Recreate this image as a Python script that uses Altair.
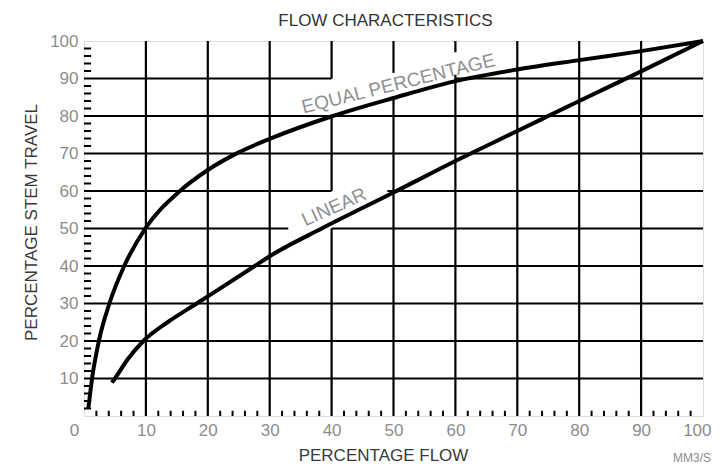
import altair as alt
import pandas as pd

# Curves (x = percentage flow, y = percentage stem travel)
eq_x = [0.7, 1.3, 2.4, 4.1, 6.5, 9.9, 15.5, 20, 25, 30, 40.2, 50, 60, 70, 80, 90, 100]
eq_y = [2, 10, 20, 30, 40, 50, 60, 65.6, 70.3, 73.9, 80, 84.8, 89.3, 92.4, 94.9, 97.3, 100]
lin_x = [4.5, 5.0, 7.0, 9.6, 13.5, 18.2, 27.6, 30, 38.4, 50, 60, 70, 80, 90, 100]
lin_y = [8.9, 10, 15, 20, 25.0, 30, 40, 42.6, 50, 59.6, 68, 76, 84, 91.9, 100]

x_tick_values = list(range(0, 101, 10))
y_tick_values = list(range(10, 101, 10))
minor_values = [v for v in range(2, 100, 2) if v % 10 != 0]

# Grid segments (interrupted behind the curve labels)
h_y = [10, 20, 30, 40, 50, 50, 60, 60, 70, 80, 90, 90]
h_x1 = [0, 0, 0, 0, 0, 40, 0, 49, 0, 0, 0, 60]
h_x2 = [100, 100, 100, 100, 33, 100, 40, 100, 100, 100, 40, 100]
v_x = [10, 20, 30, 40, 40, 40, 50, 50, 60, 60, 70, 80, 90]
v_y1 = [0, 0, 0, 0, 60, 90, 0, 91.5, 0, 97, 0, 0, 0]
v_y2 = [100, 100, 100, 50, 80, 100, 85, 100, 91, 100, 100, 100, 100]

labels = ["EQUAL PERCENTAGE", "LINEAR"]
label_x = [50.8, 40.4]
label_y = [88.6, 55.7]

FONT = "Liberation Sans"

curves = pd.DataFrame(
    {"x": eq_x + lin_x, "y": eq_y + lin_y,
     "series": ["equal"] * len(eq_x) + ["linear"] * len(lin_x)}
)
hgrid = pd.DataFrame({"y": h_y, "x1": h_x1, "x2": h_x2})
vgrid = pd.DataFrame({"x": v_x, "y1": v_y1, "y2": v_y2})
xminor = pd.DataFrame({"x": minor_values, "y1": [0] * len(minor_values), "y2": [1.4] * len(minor_values)})
yminor = pd.DataFrame({"y": minor_values, "x1": [0] * len(minor_values), "x2": [1.15] * len(minor_values)})

xs = alt.Scale(domain=[0, 100], nice=False)
ys = alt.Scale(domain=[0, 100], nice=False)

x_axis = alt.Axis(values=x_tick_values, grid=False, ticks=False, domain=False,
                  labelOverlap=False, labelFlush=False,
                  labelAlign=alt.ExprRef(expr="datum.value == 100 ? 'right' : 'center'"),
                  labelOffset=alt.ExprRef(expr="datum.value == 0 ? -10 : (datum.value == 100 ? 8 : 0)"),
                  labelFont=FONT, labelFontSize=17, labelColor="#8c8c8c", labelPadding=6,
                  title="PERCENTAGE FLOW", titleFont=FONT, titleFontSize=17,
                  titleFontWeight="normal", titleColor="#3a3a3a",
                  titleX=299, titleY=44, titleBaseline="alphabetic", titleAnchor="middle")
y_axis = alt.Axis(values=y_tick_values, grid=False, ticks=False, domain=False,
                  labelOverlap=False, labelFlush=False,
                  labelFont=FONT, labelFontSize=17, labelColor="#8c8c8c", labelPadding=6,
                  title="PERCENTAGE STEM TRAVEL", titleFont=FONT, titleFontSize=17,
                  titleFontWeight="normal", titleColor="#3a3a3a",
                  titleX=-53, titleY=181, titleAngle=270, titleBaseline="middle",
                  titleAlign="center")

hg = alt.Chart(hgrid).mark_rule(color="black", strokeWidth=2.2).encode(
    x=alt.X("x1:Q", scale=xs, axis=x_axis), x2="x2:Q",
    y=alt.Y("y:Q", scale=ys, axis=y_axis),
)
vg = alt.Chart(vgrid).mark_rule(color="black", strokeWidth=2.2).encode(
    x=alt.X("x:Q", scale=xs), y=alt.Y("y1:Q", scale=ys), y2="y2:Q"
)
xm = alt.Chart(xminor).mark_rule(color="black", strokeWidth=2).encode(
    x=alt.X("x:Q", scale=xs), y=alt.Y("y1:Q", scale=ys), y2="y2:Q"
)
ym = alt.Chart(yminor).mark_rule(color="black", strokeWidth=2).encode(
    y=alt.Y("y:Q", scale=ys), x=alt.X("x1:Q", scale=xs), x2="x2:Q"
)
lines = alt.Chart(curves).mark_line(color="black", strokeWidth=4, interpolate="monotone").encode(
    x=alt.X("x:Q", scale=xs), y=alt.Y("y:Q", scale=ys), detail="series:N"
)

lab1 = alt.Chart(pd.DataFrame({"t": [labels[0]], "x": [label_x[0]], "y": [label_y[0]]})).mark_text(
    font=FONT, fontSize=19, color="#8f8f8f", angle=346, align="center", baseline="middle"
).encode(x=alt.X("x:Q", scale=xs), y=alt.Y("y:Q", scale=ys), text="t:N")
lab2 = alt.Chart(pd.DataFrame({"t": [labels[1]], "x": [label_x[1]], "y": [label_y[1]]})).mark_text(
    font=FONT, fontSize=19, color="#8f8f8f", angle=336, align="center", baseline="middle"
).encode(x=alt.X("x:Q", scale=xs), y=alt.Y("y:Q", scale=ys), text="t:N")

unit = alt.Chart(pd.DataFrame({"t": ["MM3/S"], "x": [100], "y": [0]})).mark_text(
    font=FONT, fontSize=12, color="#8c8c8c", align="center", baseline="middle", dx=-11, dy=42
).encode(x=alt.X("x:Q", scale=xs), y=alt.Y("y:Q", scale=ys), text="t:N")

chart = alt.layer(hg, vg, xm, ym, lines, lab1, lab2, unit).properties(
    width=619, height=375,
    title=alt.TitleParams("FLOW CHARACTERISTICS", font=FONT, fontSize=17, fontWeight="normal",
                          color="#333333", anchor="middle", frame="group", dx=-8, offset=2),
    autosize=alt.AutoSizeParams(type="none"),
    padding={"left": 76, "top": 33, "right": 9, "bottom": 48},
).configure_view(stroke="black", strokeWidth=3).configure(background="white")

chart.save("out.html", embed_options={"renderer": "svg", "actions": False})
